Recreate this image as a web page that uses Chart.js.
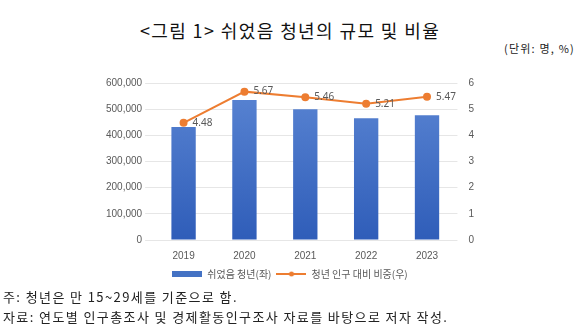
<!DOCTYPE html>
<html>
<head>
<meta charset="utf-8">
<script src="https://cdn.jsdelivr.net/npm/chart.js@4"></script>
<style>
  body { margin: 0; background: #fff; font-family: "Noto Sans CJK KR", sans-serif; }
  #title { position: absolute; top: 17px; left: 0; width: 580px; text-align: center; font-size: 18px; letter-spacing: 1.4px; color: #111; }
  #unit { position: absolute; top: 40px; right: 5px; font-size: 11px; letter-spacing: 1.2px; color: #222; }
  #box { position: absolute; left: 103px; top: 74px; width: 374px; height: 215px; }
  .note { position: absolute; left: 3px; font-size: 13px; letter-spacing: 1.4px; color: #222; }
</style>
</head>
<body>
<div id="title">&lt;그림 1&gt; 쉬었음 청년의 규모 및 비율</div>
<div id="unit">(단위: 명, %)</div>
<div id="box"><canvas id="chart"></canvas></div>
<div class="note" style="top:287px">주: 청년은 만 15~29세를 기준으로 함.</div>
<div class="note" style="top:307px">자료: 연도별 인구총조사 및 경제활동인구조사 자료를 바탕으로 저자 작성.</div>
<script>
const years = ['2019', '2020', '2021', '2022', '2023'];
const restingYouth = [432000, 535000, 500000, 465000, 477000];
const shareOfYouth = [4.48, 5.67, 5.46, 5.21, 5.47];

const BLUE = '#4472C4';
const ORANGE = '#ED7D31';

// little legend markers: a flat bar and a line with a dot
function barMark() {
  const c = document.createElement('canvas');
  c.width = 30; c.height = 6;
  const g = c.getContext('2d');
  g.fillStyle = BLUE;
  g.fillRect(0, 0, 30, 6);
  return c;
}
function lineMark() {
  const c = document.createElement('canvas');
  c.width = 30; c.height = 8;
  const g = c.getContext('2d');
  g.strokeStyle = ORANGE;
  g.lineWidth = 2;
  g.beginPath(); g.moveTo(0, 4); g.lineTo(30, 4); g.stroke();
  g.fillStyle = ORANGE;
  g.beginPath(); g.arc(15, 4, 2.5, 0, Math.PI * 2); g.fill();
  return c;
}

// draw the ratio values beside each point
const pointLabels = {
  id: 'pointLabels',
  afterDatasetsDraw(chart) {
    const ctx = chart.ctx;
    const meta = chart.getDatasetMeta(1);
    ctx.save();
    ctx.font = '10px "Noto Sans", sans-serif';
    ctx.fillStyle = '#595959';
    ctx.textBaseline = 'middle';
    meta.data.forEach((pt, i) => {
      ctx.fillText(shareOfYouth[i].toFixed(2), pt.x + 9, pt.y);
    });
    ctx.restore();
  }
};

const ctx = document.getElementById('chart').getContext('2d');
const grad = ctx.createLinearGradient(0, 10, 0, 170);
grad.addColorStop(0, '#5A85D3');
grad.addColorStop(1, '#2E5CB8');

new Chart(ctx, {
  type: 'bar',
  data: {
    labels: years,
    datasets: [{
      type: 'bar',
      label: '쉬었음 청년(좌)',
      data: restingYouth,
      backgroundColor: grad,
      yAxisID: 'y',
      barPercentage: 0.4,
      categoryPercentage: 1,
      order: 2
    }, {
      type: 'line',
      label: '청년 인구 대비 비중(우)',
      data: shareOfYouth,
      borderColor: ORANGE,
      backgroundColor: ORANGE,
      borderWidth: 2,
      pointRadius: 3,
      yAxisID: 'y1',
      order: 1
    }]
  },
  options: {
    responsive: true,
    maintainAspectRatio: false,
    animation: false,
    plugins: {
      legend: {
        position: 'bottom',
        labels: {
          font: { size: 10, family: '"Noto Sans CJK KR", sans-serif' },
          color: '#595959',
          usePointStyle: true,
          pointStyleWidth: 30,
          boxHeight: 8,
          padding: 5,
          generateLabels(chart) {
            return chart.data.datasets.map((ds, i) => ({
              text: ds.label,
              datasetIndex: i,
              pointStyle: i === 0 ? barMark() : lineMark(),
              fontColor: '#595959',
              lineWidth: 0,
              hidden: false
            }));
          }
        }
      },
      tooltip: { enabled: false }
    },
    scales: {
      x: {
        grid: { display: false },
        border: { display: false },
        ticks: { color: '#595959', font: { size: 10 }, padding: 2 }
      },
      y: {
        min: 0, max: 600000,
        ticks: {
          stepSize: 100000,
          color: '#595959',
          font: { size: 10 },
          callback: v => v.toLocaleString('en-US')
        },
        grid: { color: '#E6E6E6' },
        border: { display: false }
      },
      y1: {
        position: 'right',
        min: 0, max: 6,
        ticks: { stepSize: 1, color: '#595959', font: { size: 10 }, padding: 3 },
        grid: { display: false },
        border: { display: false }
      }
    }
  },
  plugins: [pointLabels]
});
</script>
</body>
</html>
